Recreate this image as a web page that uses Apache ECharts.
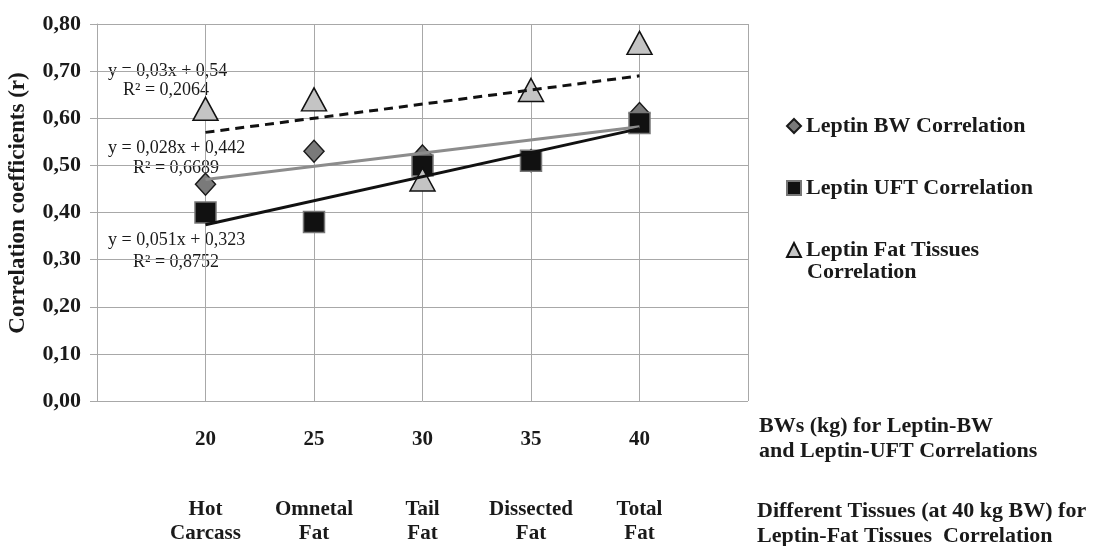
<html>
<head>
<meta charset="utf-8">
<script type="text/javascript" src="https://cdn.jsdelivr.net/npm/echarts@6/dist/echarts.min.js"></script>
<style>
  body { margin: 0; background: #fff; }
  #container { width: 1093px; height: 546px; }
</style>
</head>
<body>
<div id="container"></div>
<script type="text/javascript">
// values
var bwKg = [20, 25, 30, 35, 40];
var tissues = ['Hot\nCarcass', 'Omnetal\nFat', 'Tail\nFat', 'Dissected\nFat', 'Total\nFat'];
var leptinBW = [0.46, 0.53, 0.52, 0.51, 0.61];
var leptinUFT = [0.40, 0.38, 0.50, 0.51, 0.59];
var leptinFat = [0.62, 0.64, 0.47, 0.66, 0.76];
// trendline end points (at 20 and 40)
var trendX = [20, 40];
var trendBW = [0.470, 0.582];
var trendUFT = [0.374, 0.578];
var trendFat = [0.570, 0.690];
var yTicks = ['0,00', '0,10', '0,20', '0,30', '0,40', '0,50', '0,60', '0,70', '0,80'];

var serif = "'Liberation Serif', 'Times New Roman', serif";
var ink = '#1a1a1a';

function pairs(xs, ys) {
    return xs.map(function (x, i) { return [x, ys[i]]; });
}

var containerDom = document.getElementById('container');
var myChart = echarts.init(containerDom, null, {renderer: 'canvas'});

function eqText(x, y, s) {
    return {
        type: 'text', x: x, y: y,
        style: { text: s, font: '18px ' + serif, fill: ink, textVerticalAlign: 'middle' }
    };
}
function boldText(x, y, s, size) {
    return {
        type: 'text', x: x, y: y,
        style: { text: s, font: 'bold ' + size + 'px ' + serif, fill: ink, lineHeight: 25, textVerticalAlign: 'top' }
    };
}

var option = {
    animation: false,
    backgroundColor: '#fff',
    grid: { left: 97, top: 24, right: 345, bottom: 144 },
    legend: {
        orient: 'vertical',
        left: 781, top: 110,
        itemGap: 40,
        itemWidth: 14, itemHeight: 14,
        textStyle: { fontFamily: serif, fontWeight: 'bold', fontSize: 22, color: ink },
        formatter: function (name) {
            return name === 'Leptin Fat Tissues Correlation' ? 'Leptin Fat Tissues' : name;
        },
        data: [
            { name: 'Leptin BW Correlation', icon: 'diamond' },
            { name: 'Leptin UFT Correlation', icon: 'rect' },
            { name: 'Leptin Fat Tissues Correlation', icon: 'triangle' }
        ]
    },
    graphic: [
        eqText(108, 71, 'y = 0,03x + 0,54'),
        eqText(123, 90, 'R² = 0,2064'),
        eqText(108, 148, 'y = 0,028x + 0,442'),
        eqText(133, 168, 'R² = 0,6689'),
        eqText(108, 240, 'y = 0,051x + 0,323'),
        eqText(133, 262, 'R² = 0,8752'),
        boldText(807, 260, 'Correlation', 22),
        boldText(759, 414, 'BWs (kg) for Leptin-BW\nand Leptin-UFT Correlations', 22),
        boldText(757, 499, 'Different Tissues (at 40 kg BW) for\nLeptin-Fat Tissues  Correlation', 22),
        {
            type: 'text', x: 18, y: 203, rotation: Math.PI / 2,
            style: {
                text: 'Correlation coefficients (r)', font: 'bold 23px ' + serif, fill: ink,
                textAlign: 'center', textVerticalAlign: 'middle'
            }
        }
    ],
    xAxis: [
        {
            type: 'value', min: 15, max: 45, interval: 5,
            axisLine: { show: false },
            axisTick: { show: false },
            splitLine: { show: true, lineStyle: { color: '#a8a8a8', width: 1 } },
            axisLabel: {
                margin: 28, fontFamily: serif, fontWeight: 'bold', fontSize: 21, color: ink,
                formatter: function (v) { return bwKg.indexOf(v) >= 0 ? String(v) : ''; }
            }
        },
        {
            type: 'value', min: 15, max: 45, interval: 5, position: 'bottom',
            axisLine: { show: false },
            axisTick: { show: false },
            splitLine: { show: false },
            axisLabel: {
                margin: 97, fontFamily: serif, fontWeight: 'bold', fontSize: 21, color: ink, lineHeight: 24,
                formatter: function (v) {
                    var i = bwKg.indexOf(v);
                    return i >= 0 ? tissues[i] : '';
                }
            }
        }
    ],
    yAxis: {
        type: 'value', min: 0, max: 0.8, interval: 0.1,
        axisLine: { show: true, lineStyle: { color: '#a8a8a8' } },
        axisTick: { show: true, length: 7, lineStyle: { color: '#a8a8a8' } },
        splitLine: { lineStyle: { color: '#a8a8a8', width: 1 } },
        axisLabel: {
            margin: 16, fontFamily: serif, fontWeight: 'bold', fontSize: 22, color: ink,
            formatter: function (v) { return yTicks[Math.round(v * 10)]; }
        }
    },
    series: [
        {
            name: 'Leptin BW Correlation', type: 'scatter', z: 2,
            symbol: 'diamond', symbolSize: [20, 22],
            itemStyle: { color: '#7a7a7a', borderColor: '#1a1a1a', borderWidth: 1.5, opacity: 1 },
            data: pairs(bwKg, leptinBW)
        },
        {
            name: 'Leptin UFT Correlation', type: 'scatter', z: 3,
            symbol: 'rect', symbolSize: 21,
            itemStyle: { color: '#111', borderColor: '#777', borderWidth: 1.5, opacity: 1 },
            data: pairs(bwKg, leptinUFT)
        },
        {
            name: 'Leptin Fat Tissues Correlation', type: 'scatter', z: 4,
            symbol: 'triangle', symbolSize: [25, 23],
            itemStyle: { color: '#c4c4c4', borderColor: '#111', borderWidth: 1.5, opacity: 1 },
            data: pairs(bwKg, leptinFat)
        },
        {
            name: 'trend BW', type: 'line', z: 5, showSymbol: false, symbol: 'none',
            lineStyle: { color: '#8c8c8c', width: 3 },
            data: pairs(trendX, trendBW)
        },
        {
            name: 'trend UFT', type: 'line', z: 5, showSymbol: false, symbol: 'none',
            lineStyle: { color: '#111', width: 3 },
            data: pairs(trendX, trendUFT)
        },
        {
            name: 'trend Fat', type: 'line', z: 5, showSymbol: false, symbol: 'none',
            lineStyle: { color: '#111', width: 3, type: [9, 6] },
            data: pairs(trendX, trendFat)
        }
    ]
};

myChart.setOption(option);
</script>
</body>
</html>
